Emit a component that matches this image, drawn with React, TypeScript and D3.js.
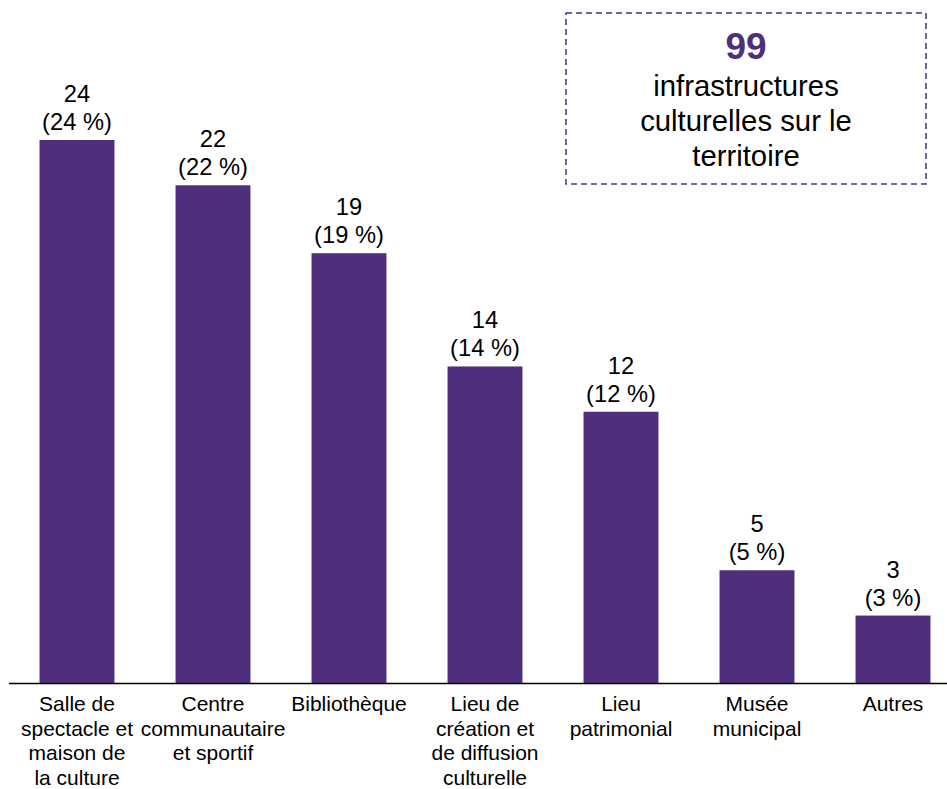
import React from "react";
import * as d3 from "d3";

const categories: string[][] = [
  ["Salle de", "spectacle et", "maison de", "la culture"],
  ["Centre", "communautaire", "et sportif"],
  ["Bibliothèque"],
  ["Lieu de", "création et", "de diffusion", "culturelle"],
  ["Lieu", "patrimonial"],
  ["Musée", "municipal"],
  ["Autres"],
];
const values: number[] = [24, 22, 19, 14, 12, 5, 3];
const percents: number[] = [24, 22, 19, 14, 12, 5, 3];
const totalValue = "99";
const totalLines: string[] = ["infrastructures", "culturelles sur le", "territoire"];

const W = 947;
const H = 789;
const PURPLE = "#4f2f7c";
const FONT = "Liberation Sans, Arial, sans-serif";

export default function App() {
  const idx = values.map((_, i) => String(i));
  const x = d3.scaleBand<string>().domain(idx).range([9, 961]).paddingInner(0.449).paddingOuter(0.2245);
  const y = d3.scaleLinear().domain([0, 24]).range([683.5, 140]);
  const boxX = 566, boxY = 13, boxW = 360, boxH = 171;
  const cx = boxX + boxW / 2;
  return (
    <svg width={W} height={H} style={{ position: "absolute", left: 0, top: 0 }} fontFamily={FONT}>
      {values.map((v, i) => {
        const bx = x(String(i))!;
        const bw = x.bandwidth();
        const mid = bx + bw / 2;
        return (
          <g key={i}>
            <rect x={bx} y={y(v)} width={bw} height={y(0) - y(v)} fill={PURPLE} />
            <text x={mid} y={y(v) - 38} textAnchor="middle" fontSize={23.7} fill="#000">{v}</text>
            <text x={mid} y={y(v) - 10} textAnchor="middle" fontSize={23.7} fill="#000">({percents[i]} %)</text>
            {categories[i].map((line, j) => (
              <text key={j} x={mid} y={711 + j * 24.5} textAnchor="middle" fontSize={21} fill="#000">{line}</text>
            ))}
          </g>
        );
      })}
      <line x1={9} x2={947} y1={y(0)} y2={y(0)} stroke="#000" strokeWidth={1.5} />
      <rect x={boxX} y={boxY} width={boxW} height={boxH} fill="none" stroke={PURPLE} strokeWidth={1.5} strokeDasharray="6,4" />
      <text x={cx} y={59} textAnchor="middle" fontSize={37} fontWeight="bold" fill={PURPLE}>{totalValue}</text>
      {totalLines.map((l, j) => (
        <text key={j} x={cx} y={96 + j * 35} textAnchor="middle" fontSize={29.3} fill="#000">{l}</text>
      ))}
    </svg>
  );
}
